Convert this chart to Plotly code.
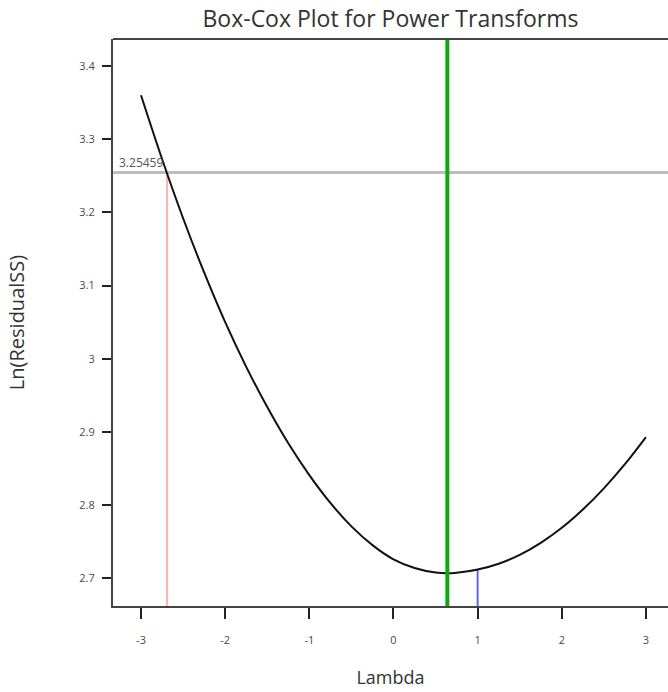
import plotly.graph_objects as go

# Box-Cox profile: ln(residual SS) against the power lambda
lambdas = [-3.0, -2.75, -2.5, -2.25, -2.0, -1.75, -1.5, -1.25, -1.0, -0.75, -0.5, -0.25,
           0.0, 0.25, 0.5, 0.64, 0.75, 1.0, 1.25, 1.5, 1.75, 2.0, 2.25, 2.5, 2.75, 3.0]
ln_ss = [3.360, 3.2729, 3.192, 3.1179, 3.050, 2.989, 2.934, 2.8845, 2.841, 2.803, 2.771, 2.7454,
         2.726, 2.7142, 2.708, 2.7071, 2.7078, 2.712, 2.720, 2.732, 2.7485, 2.769, 2.794, 2.823,
         2.856, 2.893]

ci_threshold = 3.25459      # ln(SS) cut-off for the confidence interval
ci_low_lambda = -2.69       # where the curve crosses the cut-off
best_lambda = 0.64          # minimum of the curve
current_lambda = 1.0        # current transform (none)
current_ln_ss = ln_ss[lambdas.index(current_lambda)]

x_ticks = [-3, -2, -1, 0, 1, 2, 3]
y_ticks = [2.7, 2.8, 2.9, 3.0, 3.1, 3.2, 3.3, 3.4]
y_tick_text = ["2.7", "2.8", "2.9", "3", "3.1", "3.2", "3.3", "3.4"]

x_range = [-3.333, 3.262]
y_range = [2.6622, 3.4369]

font_family = "Open Sans, Noto Sans, DejaVu Sans, sans-serif"

fig = go.Figure()

# cut-off line across the plot
fig.add_trace(go.Scatter(x=x_range, y=[ci_threshold, ci_threshold], mode="lines",
                         line=dict(color="#bdbdbd", width=3), hoverinfo="skip"))

# lower confidence limit drop line
fig.add_trace(go.Scatter(x=[ci_low_lambda, ci_low_lambda], y=[y_range[0], ci_threshold],
                         mode="lines", line=dict(color="#ffb0b0", width=2), hoverinfo="skip"))

# current lambda drop line
fig.add_trace(go.Scatter(x=[current_lambda, current_lambda], y=[y_range[0], current_ln_ss],
                         mode="lines", line=dict(color="#6060ff", width=2), hoverinfo="skip"))

# best lambda, full height
fig.add_shape(type="line", xref="x", yref="paper", x0=best_lambda, x1=best_lambda, y0=0, y1=1,
              line=dict(color="#10a810", width=4))

# profile curve
fig.add_trace(go.Scatter(x=lambdas, y=ln_ss, mode="lines", line_shape="spline",
                         line=dict(color="#111111", width=2), hoverinfo="skip"))

# top frame edge
fig.add_shape(type="line", xref="paper", yref="paper", x0=0, x1=1, y0=1, y1=1,
              line=dict(color="#444444", width=2))

fig.add_annotation(x=x_range[0], y=ci_threshold, text=f"{ci_threshold:.5f}", showarrow=False,
                   xanchor="left", yanchor="bottom", xshift=4, yshift=-1,
                   font=dict(family=font_family, size=12, color="#555555"))

fig.update_layout(
    width=668, height=692,
    margin=dict(l=113, r=0, t=39, b=86),
    paper_bgcolor="white", plot_bgcolor="white",
    showlegend=False,
    font=dict(family=font_family, color="#333333"),
    title=dict(text="Box-Cox Plot for Power Transforms", x=0.5, xref="paper", xanchor="center",
               y=1 - 19 / 692, yanchor="middle",
               font=dict(family=font_family, size=23, color="#333333")),
    xaxis=dict(range=x_range, tickvals=x_ticks, ticktext=[str(v) for v in x_ticks],
               showgrid=False, zeroline=False, showline=True, linecolor="#444444", linewidth=2,
               ticks="outside", ticklen=11, tickwidth=2, tickcolor="#222222",
               ticklabelstandoff=12,
               tickfont=dict(family=font_family, size=11, color="#4a4a4a"),
               title=dict(text="Lambda", standoff=25,
                          font=dict(family=font_family, size=18, color="#333333"))),
    yaxis=dict(range=y_range, tickvals=y_ticks, ticktext=y_tick_text,
               showgrid=False, zeroline=False, showline=True, linecolor="#444444", linewidth=2,
               ticks="outside", ticklen=9, tickwidth=2, tickcolor="#222222",
               ticklabelstandoff=5,
               tickfont=dict(family=font_family, size=11, color="#4a4a4a"),
               title=dict(text="Ln(ResidualSS)", standoff=49,
                          font=dict(family=font_family, size=20, color="#333333"))),
)

fig.write_html("out.html")
